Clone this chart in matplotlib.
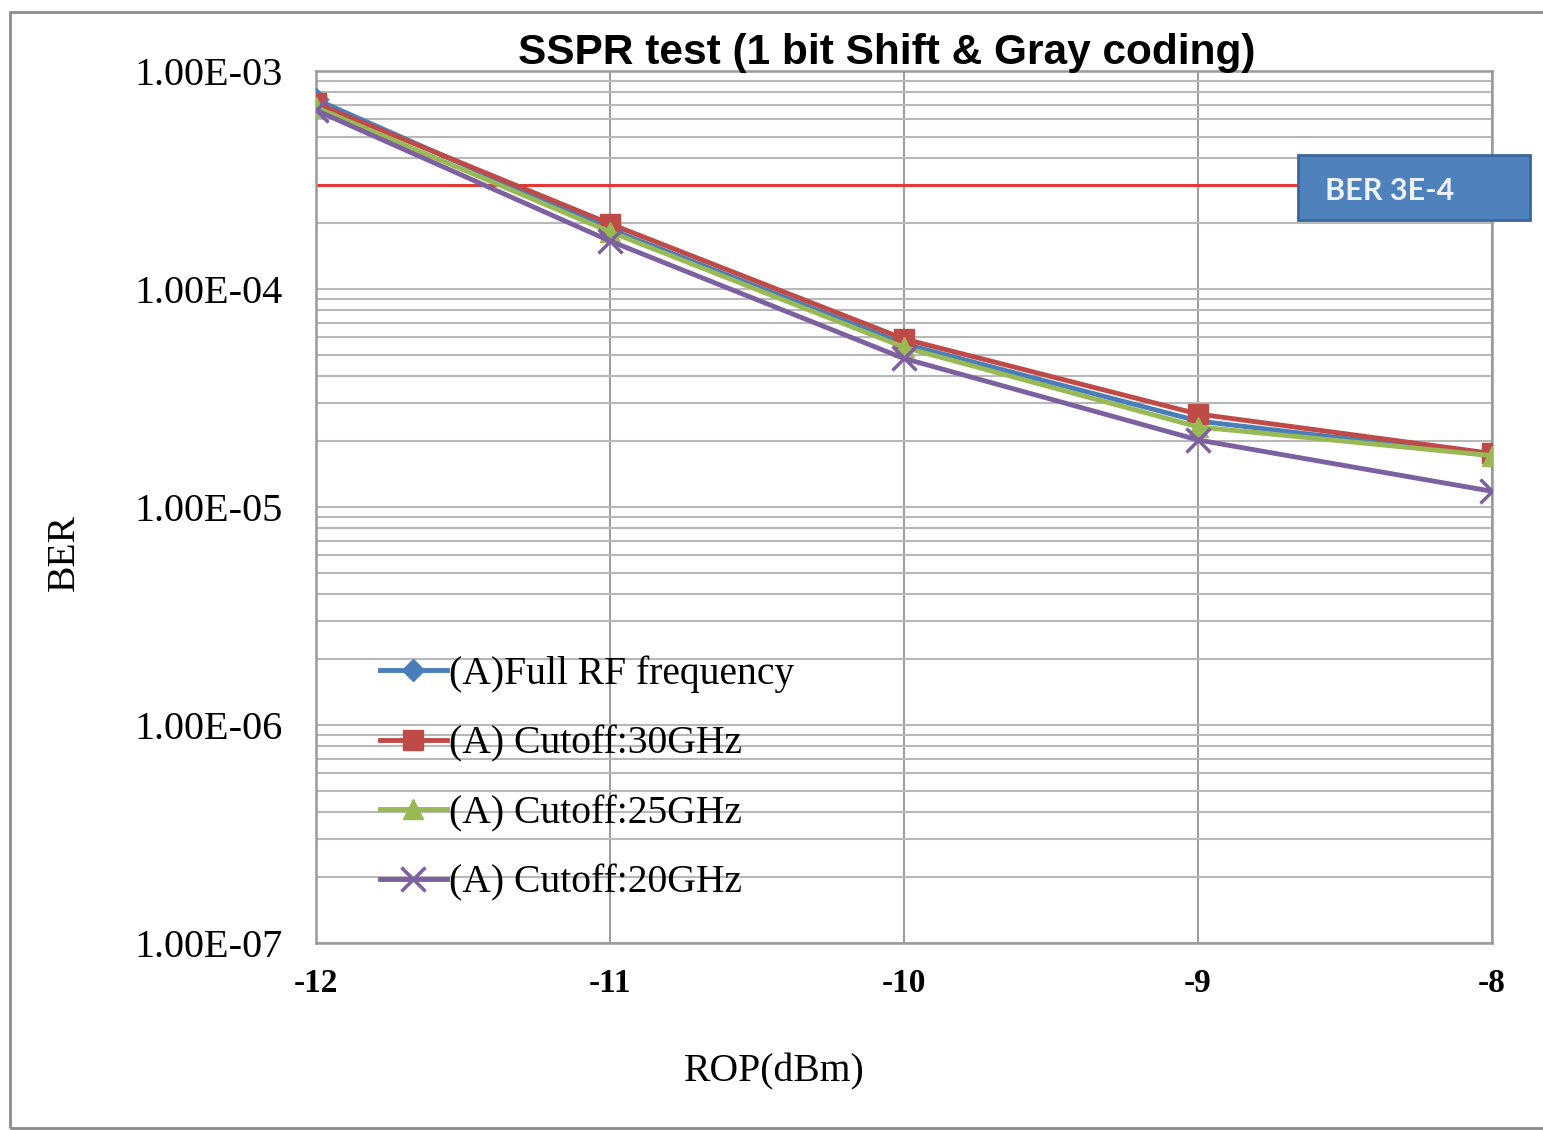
import matplotlib
matplotlib.use('Agg')
import matplotlib.pyplot as plt
from matplotlib.ticker import FixedLocator, FuncFormatter, LogLocator
from matplotlib.patches import Rectangle

plt.rcParams['axes.unicode_minus'] = False

rop = [-12, -11, -10, -9, -8]
ber_full = [7.4e-4, 1.88e-4, 5.6e-5, 2.48e-5, 1.72e-5]
ber_30 = [7.1e-4, 1.99e-4, 5.9e-5, 2.67e-5, 1.76e-5]
ber_25 = [6.8e-4, 1.83e-4, 5.4e-5, 2.33e-5, 1.72e-5]
ber_20 = [6.6e-4, 1.66e-4, 4.8e-5, 2.03e-5, 1.18e-5]
threshold = 3e-4

labels = ['(A)Full RF frequency', '(A) Cutoff:30GHz', '(A) Cutoff:25GHz', '(A) Cutoff:20GHz']
colors = ['#4A7EBB', '#BE4B48', '#98B954', '#7D60A0']

serif = 'Liberation Serif'

fig = plt.figure(figsize=(15.43, 11.3), dpi=100)
ax = fig.add_axes([0.2048, 0.1655, 0.7621, 0.7717])

ax.plot(rop, ber_full, color=colors[0], lw=3.5, marker='D', ms=11, label=labels[0], zorder=3)
ax.plot(rop, ber_30, color=colors[1], lw=3.5, marker='s', ms=15, label=labels[1], zorder=4)
ax.plot(rop, ber_25, color=colors[2], lw=3.5, marker='^', ms=14, label=labels[2], zorder=5)
ax.plot(rop, ber_20, color=colors[3], lw=3.5, marker='x', ms=17, mew=2.5, label=labels[3], zorder=6)

ax.axhline(threshold, xmin=0, xmax=0.835, color='#E23A36', lw=2.2, zorder=2)

ax.set_yscale('log')
ax.set_ylim(1e-7, 1e-3)
ax.set_xlim(-12, -8)
ax.xaxis.set_major_locator(FixedLocator(rop))
ax.yaxis.set_major_locator(LogLocator(base=10, numticks=10))
ax.yaxis.set_minor_locator(LogLocator(base=10, subs=range(2, 10), numticks=20))
ax.yaxis.set_major_formatter(FuncFormatter(lambda v, p: f'{v:.2E}'))
ax.yaxis.set_minor_formatter(FuncFormatter(lambda v, p: ''))

ax.grid(True, axis='x', color='#8a8a8a', lw=1.2)
ax.grid(True, axis='y', which='both', color='#b8b8b8', lw=1.5)
ax.set_axisbelow(True)
for s in ax.spines.values():
    s.set_color('#9a9a9a')
    s.set_linewidth(1.8)

ax.tick_params(axis='both', which='both', length=0)
ax.tick_params(axis='y', pad=24)
ax.tick_params(axis='x', pad=18)
for t in ax.get_yticklabels():
    t.set_fontfamily(serif)
    t.set_fontsize(29)
for t in ax.get_xticklabels():
    t.set_fontfamily(serif)
    t.set_fontsize(24)
    t.set_fontweight('bold')

leg = ax.legend(loc='upper left', bbox_to_anchor=(0.054, 0.33), frameon=False,
                prop={'family': serif, 'size': 28.5}, handlelength=1.7,
                handletextpad=0.05, labelspacing=0.82, borderpad=0, borderaxespad=0)

fig.text(0.575, 0.953, 'SSPR test (1 bit Shift & Gray coding)', ha='center', va='center',
         fontsize=30.5, fontweight='bold', family='Liberation Sans')
fig.text(0.042, 0.5115, 'BER', rotation=90, ha='center', va='center', fontsize=28.5, family=serif)
fig.text(0.502, 0.0513, 'ROP(dBm)', ha='center', va='center', fontsize=28.5, family=serif)

# label box for the threshold line
fig.patches.append(Rectangle((0.8412, 0.8053), 0.1504, 0.0575, transform=fig.transFigure,
                             facecolor='#4F81BD', edgecolor='#3A679C', lw=2))
fig.text(0.8587, 0.831, 'BER 3E-4', ha='left', va='center', fontsize=22,
         fontweight='bold', family='Lato', color='#EEF3FA')

# outer frame
fig.patches.append(Rectangle((10 / 1543, 2 / 1130), 1.2, 1116 / 1130, transform=fig.transFigure,
                             fill=False, edgecolor='#8c8c8c', lw=2))

fig.savefig('out.png', dpi=100)
